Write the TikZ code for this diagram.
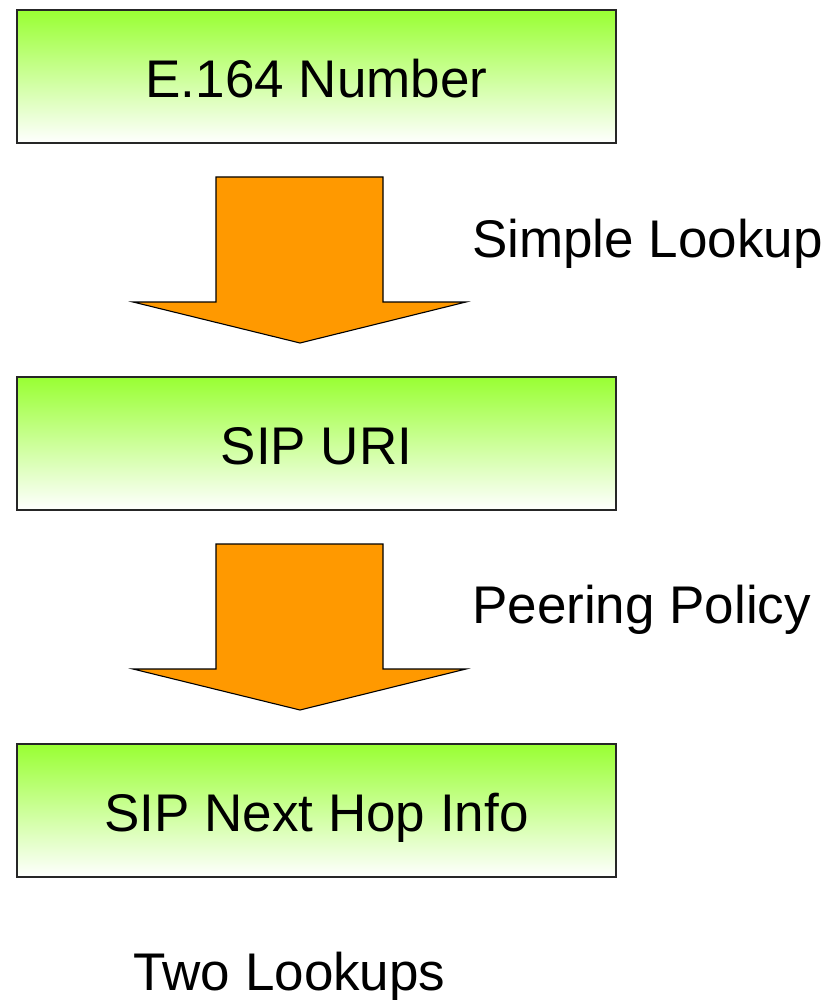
\documentclass[tikz,border=0pt]{standalone}
\usepackage{fontspec}
\setmainfont{Liberation Sans}
\usetikzlibrary{calc}

\definecolor{boxgreen}{RGB}{153,255,51}
\definecolor{arroworange}{RGB}{255,153,0}

\tikzset{
  lookupbox/.style={draw=black!85, line width=1.3pt, top color=boxgreen, bottom color=white,
    minimum width=599pt, minimum height=133pt, inner sep=0pt, text height=42pt, text depth=0pt,
    font=\fontsize{53}{64}\selectfont},
  steplabel/.style={anchor=base west, inner sep=0pt, font=\fontsize{53}{64}\selectfont},
  blockarrow/.style={draw=black, line width=1.1pt, fill=arroworange, line join=miter}
}

\begin{document}
\begin{tikzpicture}[x=1pt,y=-1pt]
        \useasboundingbox (0,0) rectangle (827,1000);

        \node[lookupbox] (e164) at (316.5,76.5) {E.164 Number};
        \node[lookupbox] (sipuri) at (316.5,443.5) {SIP URI};
        \node[lookupbox] (nexthop) at (316.5,810.5) {SIP Next Hop Info};

        \coordinate (A) at (300,177);
        \coordinate (B) at (300,544);
        \draw[blockarrow] ($(A)+(-84,0)$)--($(A)+(83,0)$)--($(A)+(83,125)$)--($(A)+(166,125)$)
          --($(A)+(0,166)$)--($(A)+(-167,125)$)--($(A)+(-84,125)$)--cycle;
        \draw[blockarrow] ($(B)+(-84,0)$)--($(B)+(83,0)$)--($(B)+(83,125)$)--($(B)+(166,125)$)
          --($(B)+(0,166)$)--($(B)+(-167,125)$)--($(B)+(-84,125)$)--cycle;

        \node[steplabel] (simple) at (472,257) {Simple Lookup};
        \node[steplabel] (peering) at (472,623) {Peering Policy};
        \node[steplabel] (twolookups) at (133,990) {Two Lookups};
      \end{tikzpicture}
\end{document}
